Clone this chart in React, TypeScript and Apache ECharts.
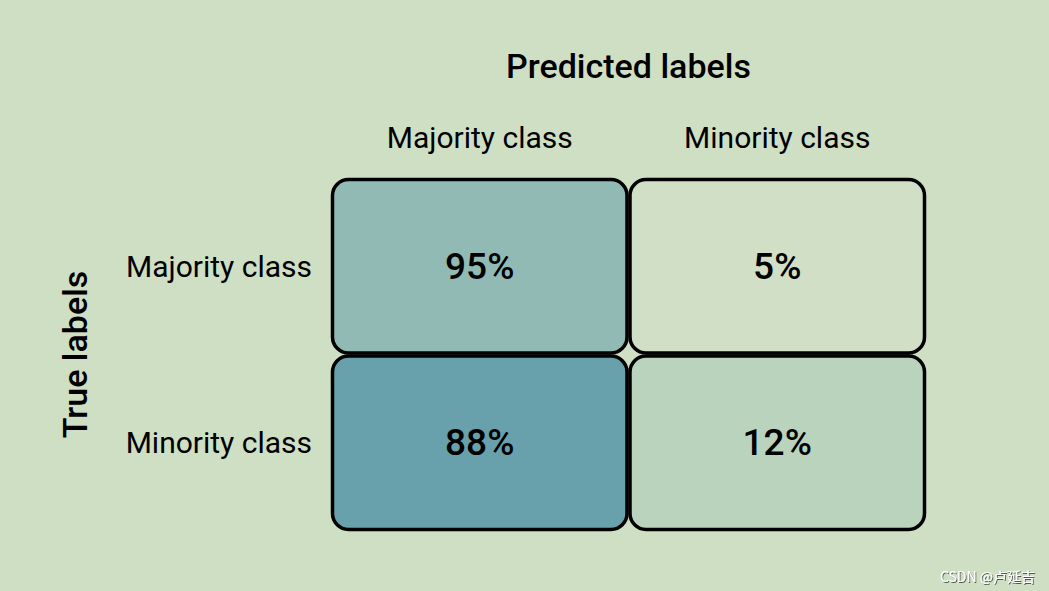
import React, { useEffect, useRef } from "react";
import * as echarts from "echarts";

const predictedCategories = ["Majority class", "Minority class"];
const trueCategories = ["Majority class", "Minority class"];
// [predictedIndex, trueIndex, percent]
const cellValues: [number, number, number][] = [
  [0, 0, 95],
  [1, 0, 5],
  [0, 1, 88],
  [1, 1, 12],
];
const cellColors = ["#92bab5", "#d0dfc5", "#68a0ab", "#b9d3bd"];

const FONT = "Roboto";

export default function App() {
  const ref = useRef<HTMLDivElement>(null);
  useEffect(() => {
    if (!ref.current) return;
    const chart = echarts.init(ref.current, undefined, { renderer: "svg" });
    chart.setOption({
      animation: false,
      backgroundColor: "#cfdfc4",
      grid: { left: 331, right: 123, top: 178, bottom: 60 },
      xAxis: {
        type: "category",
        position: "top",
        data: predictedCategories,
        axisLine: { show: false },
        axisTick: { show: false },
        splitLine: { show: false },
        axisLabel: { fontSize: 30, color: "#000", fontFamily: FONT, margin: 26 },
        name: "Predicted labels",
        nameLocation: "middle",
        nameGap: 95,
        nameTextStyle: { fontSize: 34, fontWeight: 500, color: "#000", fontFamily: FONT },
      },
      yAxis: {
        type: "category",
        inverse: true,
        data: trueCategories,
        axisLine: { show: false },
        axisTick: { show: false },
        splitLine: { show: false },
        axisLabel: { fontSize: 30, color: "#000", fontFamily: FONT, margin: 19 },
        name: "True labels",
        nameLocation: "middle",
        nameGap: 239,
        nameRotate: 90,
        nameTextStyle: { fontSize: 34, fontWeight: 500, color: "#000", fontFamily: FONT },
      },
      series: [
        {
          type: "custom",
          data: cellValues,
          encode: { x: 0, y: 1 },
          renderItem: (params: any, api: any) => {
            const c = api.coord([api.value(0), api.value(1)]);
            const s = api.size([1, 1]);
            const idx = params.dataIndex;
            const w = s[0] - 3;
            const h = s[1] - 3;
            return {
              type: "group",
              children: [
                {
                  type: "rect",
                  shape: { x: c[0] - w / 2, y: c[1] - h / 2, width: w, height: h, r: 16 },
                  style: { fill: cellColors[idx], stroke: "#000", lineWidth: 3.5 },
                },
                {
                  type: "text",
                  x: c[0],
                  y: c[1],
                  style: {
                    text: api.value(2) + "%",
                    fontSize: 37,
                    fontWeight: 500,
                    fontFamily: FONT,
                    fill: "#000",
                    align: "center",
                    verticalAlign: "middle",
                  },
                },
              ],
            };
          },
        },
      ],
      graphic: [
        {
          type: "text",
          right: 14,
          bottom: 8,
          style: {
            text: "CSDN @卢延吉",
            fontSize: 14,
            fontFamily: "Noto Sans CJK SC",
            fill: "#ffffff",
            textShadowColor: "rgba(0,0,0,0.6)",
            textShadowBlur: 1,
            textShadowOffsetX: 1,
            textShadowOffsetY: 1,
          },
        },
      ],
    });
    return () => chart.dispose();
  }, []);
  return <div ref={ref} style={{ width: 1049, height: 591, position: "fixed", left: 0, top: 0 }} />;
}
